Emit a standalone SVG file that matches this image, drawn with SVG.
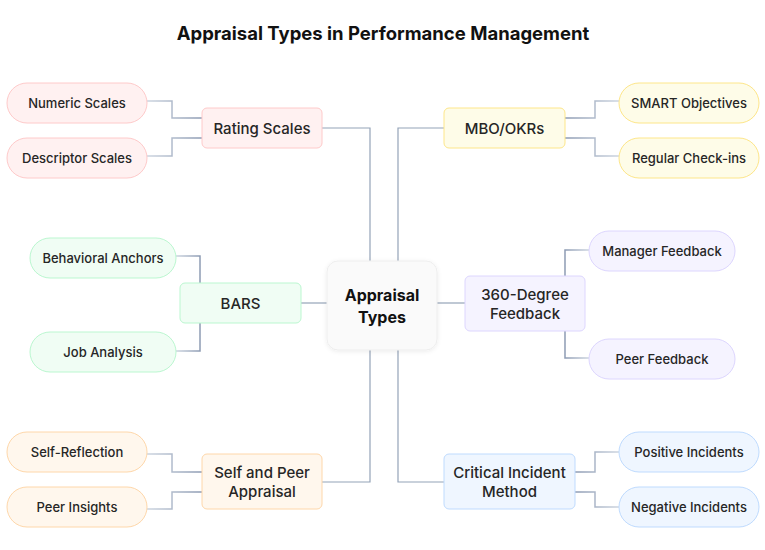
<svg xmlns="http://www.w3.org/2000/svg" width="765" height="550" viewBox="0 0 765 550">
<defs>
<linearGradient id="gl" x1="0" y1="0" x2="1" y2="0"><stop offset="0" stop-color="#cdd5e0"/><stop offset="1" stop-color="#8d9bb3"/></linearGradient>
<linearGradient id="gr" x1="1" y1="0" x2="0" y2="0"><stop offset="0" stop-color="#cdd5e0"/><stop offset="1" stop-color="#8d9bb3"/></linearGradient>
<filter id="sh" x="-20%" y="-20%" width="140%" height="140%"><feDropShadow dx="0" dy="1" stdDeviation="2" flood-color="#000" flood-opacity="0.08"/></filter>
</defs>
<style>
text{font-family:Inter,"Liberation Sans",sans-serif;fill:#262626;text-anchor:middle;dominant-baseline:central}
.title{font-size:18.5px;font-weight:700;fill:#111}
.main{font-size:15px;font-weight:500}
.child{font-size:13px;font-weight:500}
.center{font-size:16px;font-weight:700;fill:#111}
.c{fill:none;stroke:#94a3b8;stroke-width:1.2}
.cl{fill:none;stroke:url(#gl);stroke-width:1.5}
.cr{fill:none;stroke:url(#gr);stroke-width:1.5}
.pink{fill:#fff1f1;stroke:#fecaca}
.yel{fill:#fefce8;stroke:#fde68a}
.grn{fill:#f0fdf4;stroke:#bbf7d0}
.pur{fill:#f5f3ff;stroke:#ddd6fe}
.blu{fill:#eff6ff;stroke:#bfdbfe}
.org{fill:#fff7ed;stroke:#fed7aa}
</style>
<rect width="765" height="550" fill="#fff"/>
<text class="title" x="383" y="33">Appraisal Types in Performance Management</text>
<g id="connectors">
<path class="c" d="M322 128H370V261"/>
<path class="c" d="M444 128H398V261"/>
<path class="c" d="M301 303H327"/>
<path class="c" d="M437 303H465"/>
<path class="c" d="M322 482H370V350"/>
<path class="c" d="M444 482H398V350"/>
<path class="cl" d="M147 101H172V118H202"/>
<path class="cl" d="M147 156H172V138H202"/>
<path class="cl" d="M176 256H200V283"/>
<path class="cl" d="M176 351H200V323"/>
<path class="cl" d="M147 454H172V472H202"/>
<path class="cl" d="M147 509H172V492H202"/>
<path class="cr" d="M565 118H595V101H619"/>
<path class="cr" d="M565 138H595V156H619"/>
<path class="cr" d="M589 250H565V276"/>
<path class="cr" d="M589 358H565V331"/>
<path class="cr" d="M575 472H595V452H619"/>
<path class="cr" d="M575 492H595V507H619"/>
</g>
<g id="center"><rect x="327" y="261" width="110" height="89" rx="11" fill="#fafafa" stroke="#eeeeee" filter="url(#sh)"/><text class="center" x="382" y="295">Appraisal</text><text class="center" x="382" y="317">Types</text></g>
<g id="rating-scales"><rect class="pink" x="202" y="108" width="120" height="40" rx="5"/><text class="main" x="262" y="128">Rating Scales</text></g>
<g id="numeric-scales"><rect class="pink" x="7" y="83" width="140" height="40" rx="20"/><text class="child" x="77" y="103">Numeric Scales</text></g>
<g id="descriptor-scales"><rect class="pink" x="7" y="138" width="140" height="40" rx="20"/><text class="child" x="77" y="158">Descriptor Scales</text></g>
<g id="mbo"><rect class="yel" x="444" y="108" width="121" height="40" rx="5"/><text class="main" x="504.5" y="128">MBO/OKRs</text></g>
<g id="smart"><rect class="yel" x="619" y="83" width="140" height="40" rx="20"/><text class="child" x="689" y="103">SMART Objectives</text></g>
<g id="checkins"><rect class="yel" x="619" y="138" width="140" height="40" rx="20"/><text class="child" x="689" y="158">Regular Check-ins</text></g>
<g id="bars"><rect class="grn" x="180" y="283" width="121" height="40" rx="5"/><text class="main" x="240.5" y="303">BARS</text></g>
<g id="behavioral-anchors"><rect class="grn" x="30" y="238" width="146" height="40" rx="20"/><text class="child" x="103" y="258">Behavioral Anchors</text></g>
<g id="job-analysis"><rect class="grn" x="30" y="332" width="146" height="40" rx="20"/><text class="child" x="103" y="352">Job Analysis</text></g>
<g id="feedback360"><rect class="pur" x="465" y="276" width="120" height="55" rx="5"/><text class="main" x="525" y="294">360-Degree</text><text class="main" x="525" y="313">Feedback</text></g>
<g id="manager-feedback"><rect class="pur" x="589" y="231" width="146" height="40" rx="20"/><text class="child" x="662" y="251">Manager Feedback</text></g>
<g id="peer-feedback"><rect class="pur" x="589" y="339" width="146" height="40" rx="20"/><text class="child" x="662" y="359">Peer Feedback</text></g>
<g id="self-peer"><rect class="org" x="202" y="454" width="120" height="55" rx="5"/><text class="main" x="262" y="472">Self and Peer</text><text class="main" x="262" y="491">Appraisal</text></g>
<g id="self-reflection"><rect class="org" x="7" y="432" width="140" height="40" rx="20"/><text class="child" x="77" y="452">Self-Reflection</text></g>
<g id="peer-insights"><rect class="org" x="7" y="487" width="140" height="40" rx="20"/><text class="child" x="77" y="507">Peer Insights</text></g>
<g id="critical-incident"><rect class="blu" x="444" y="454" width="131" height="55" rx="5"/><text class="main" x="509.5" y="472">Critical Incident</text><text class="main" x="509.5" y="491">Method</text></g>
<g id="positive"><rect class="blu" x="619" y="432" width="140" height="40" rx="20"/><text class="child" x="689" y="452">Positive Incidents</text></g>
<g id="negative"><rect class="blu" x="619" y="487" width="140" height="40" rx="20"/><text class="child" x="689" y="507">Negative Incidents</text></g>
</svg>
